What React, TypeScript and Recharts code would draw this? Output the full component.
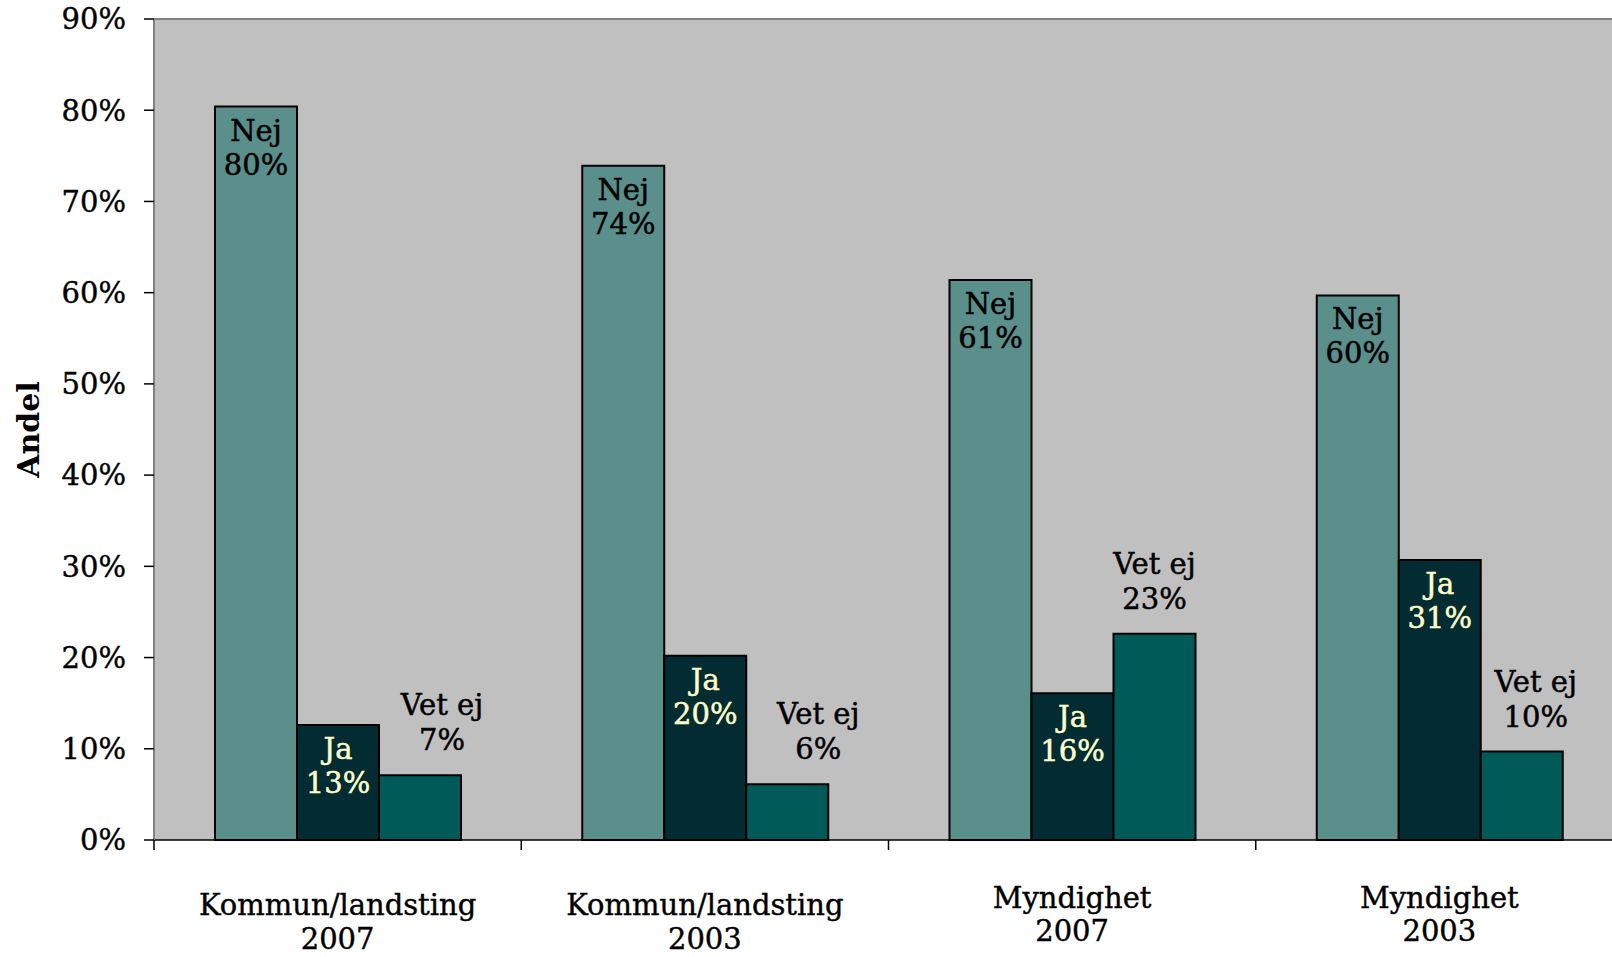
import { BarChart, Bar, XAxis, YAxis, CartesianGrid, LabelList, ReferenceLine } from "recharts";

// categories (name + year, split on the last space)
const CATEGORIES = [
  "Kommun/landsting 2007",
  "Kommun/landsting 2003",
  "Myndighet 2007",
  "Myndighet 2003",
];

// share in percent
const NEJ = [80.4, 73.9, 61.4, 59.7];
const JA = [12.6, 20.2, 16.1, 30.7];
const VET_EJ = [7.1, 6.1, 22.6, 9.7];

const Y_TICKS = [0, 10, 20, 30, 40, 50, 60, 70, 80, 90];

const FONT = '"DejaVu Serif", serif';
const CHART_W = 1640;
const CHART_H = 957;
const PLOT_LEFT = 154;
const PLOT_RIGHT = 17;
const CAT_W = (CHART_W - PLOT_LEFT - PLOT_RIGHT) / CATEGORIES.length;

// the "Vet ej" labels were nudged right by hand in the original
const VET_EJ_NUDGE = [22, 31, 0, 14];

const data = CATEGORIES.map((category, i) => ({
  category,
  nej: NEJ[i],
  ja: JA[i],
  vetEj: VET_EJ[i],
}));

// two-line label: series name + rounded value, inside the top of the bar or above it
function makeLabel(name: string, color: string, inside: boolean, nudge?: number[]) {
  return (props: any) => {
    const dx = nudge ? nudge[props.index] ?? 0 : 0;
    const cx = Number(props.x) + Number(props.width) / 2 + dx;
    const top = Number(props.y);
    const b1 = inside ? top + 34 : top - 60;
    const b2 = inside ? top + 68 : top - 25;
    return (
      <text
        textAnchor="middle"
        fontFamily={FONT}
        fontSize={29}
        fill={color}
        stroke={color}
        strokeWidth={0.5}
      >
        <tspan x={cx} y={b1}>{name}</tspan>
        <tspan x={cx} y={b2}>{Math.round(Number(props.value))}%</tspan>
      </text>
    );
  };
}

const CategoryTick = (props: any) => {
  const { x, y, payload, index } = props;
  const text = String(payload.value);
  const cut = text.lastIndexOf(" ");
  const name = text.slice(0, cut);
  const year = text.slice(cut + 1);
  const b1 = index < 2 ? 75 : 68;
  const b2 = index < 2 ? 109 : 101;
  return (
    <g>
      <line x1={x - CAT_W / 2} x2={x - CAT_W / 2} y1={y} y2={y + 10} stroke="#000" strokeWidth={1.5} />
      <text textAnchor="middle" fontFamily={FONT} fontSize={29} fill="#000" stroke="#000" strokeWidth={0.4}>
        <tspan x={x} y={y + b1}>{name}</tspan>
        <tspan x={x} y={y + b2}>{year}</tspan>
      </text>
    </g>
  );
};

const AxisTitle = (props: any) => {
  const vb = props.viewBox || { x: 0, y: 19, width: 154, height: 821 };
  const cy = vb.y + vb.height / 2;
  return (
    <text
      x={28}
      y={cy}
      transform={`rotate(-90, 28, ${cy})`}
      textAnchor="middle"
      dominantBaseline="central"
      fontFamily={FONT}
      fontSize={30}
      fontWeight="bold"
      fill="#000"
    >
      Andel
    </text>
  );
};

export default function App() {
  return (
    <div
      style={{
        position: "absolute",
        left: 0,
        top: 0,
        width: 1612,
        height: 957,
        overflow: "hidden",
        background: "#fff",
        fontFamily: FONT,
      }}
    >
      <BarChart
        width={CHART_W}
        height={CHART_H}
        data={data}
        margin={{ top: 19, right: PLOT_RIGHT, bottom: 0, left: 0 }}
        barCategoryGap={61}
        barGap={0}
      >
        <CartesianGrid fill="#C0C0C0" horizontal={false} vertical={false} />
        <XAxis
          dataKey="category"
          height={117}
          interval={0}
          tickLine={false}
          tickSize={0}
          tickMargin={0}
          axisLine={{ stroke: "#000", strokeWidth: 1.5 }}
          tick={<CategoryTick />}
        />
        <YAxis
          width={PLOT_LEFT}
          domain={[0, 90]}
          ticks={Y_TICKS}
          interval={0}
          tickFormatter={(v: number) => `${v}%`}
          tickSize={10}
          tickMargin={18}
          tick={{ fontSize: 29, fill: "#000", fontFamily: FONT, stroke: "#000", strokeWidth: 0.4 }}
          axisLine={{ stroke: "#808080", strokeWidth: 2 }}
          tickLine={{ stroke: "#000", strokeWidth: 1.5 }}
          label={<AxisTitle />}
        />
        <ReferenceLine y={90} stroke="#808080" strokeWidth={2} />
        <Bar dataKey="nej" name="Nej" fill="#5A8F8C" stroke="#000" strokeWidth={2} isAnimationActive={false}>
          <LabelList dataKey="nej" content={makeLabel("Nej", "#000", true)} />
        </Bar>
        <Bar dataKey="ja" name="Ja" fill="#032C32" stroke="#000" strokeWidth={2} isAnimationActive={false}>
          <LabelList dataKey="ja" content={makeLabel("Ja", "#FFFFCC", true)} />
        </Bar>
        <Bar dataKey="vetEj" name="Vet ej" fill="#005A57" stroke="#000" strokeWidth={2} isAnimationActive={false}>
          <LabelList dataKey="vetEj" content={makeLabel("Vet ej", "#000", false, VET_EJ_NUDGE)} />
        </Bar>
      </BarChart>
    </div>
  );
}
